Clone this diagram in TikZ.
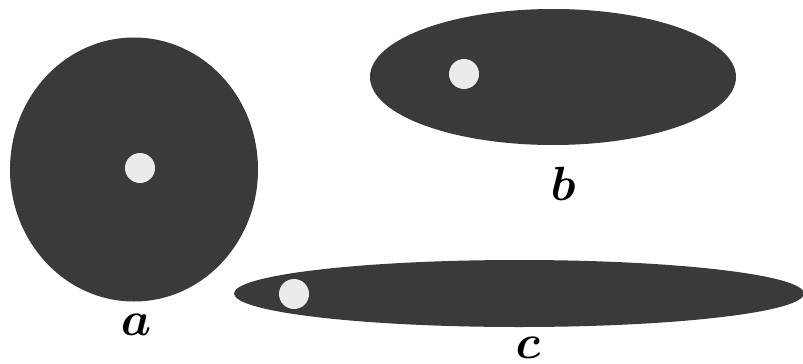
\documentclass[tikz,border=0pt]{standalone}
\definecolor{blob}{HTML}{3A3A3A}
\definecolor{spot}{HTML}{EBEBEB}
\begin{document}
\begin{tikzpicture}[x=1pt,y=-1pt,
  blobfill/.style={fill=blob},
  spotfill/.style={fill=spot},
  lbl/.style={anchor=base,inner sep=0pt,scale=4.8,font=\boldmath}]
\useasboundingbox (0,0) rectangle (803,364);
% a
\fill[blobfill] (134,169.5) ellipse [x radius=124, y radius=132];
\fill[spotfill] (140,168) circle [radius=15];
% b
\fill[blobfill] (553,77) ellipse [x radius=183, y radius=68];
\fill[spotfill] (464,74) circle [radius=15];
% c
\fill[blobfill] (519,293.5) ellipse [x radius=285, y radius=33.5];
\fill[spotfill] (294,294) circle [radius=15];
% labels
\node[lbl] (la) at (136,335) {$a$};
\node[lbl] (lb) at (563,200) {$b$};
\node[lbl] (lc) at (528,358) {$c$};
\end{tikzpicture}
\end{document}
